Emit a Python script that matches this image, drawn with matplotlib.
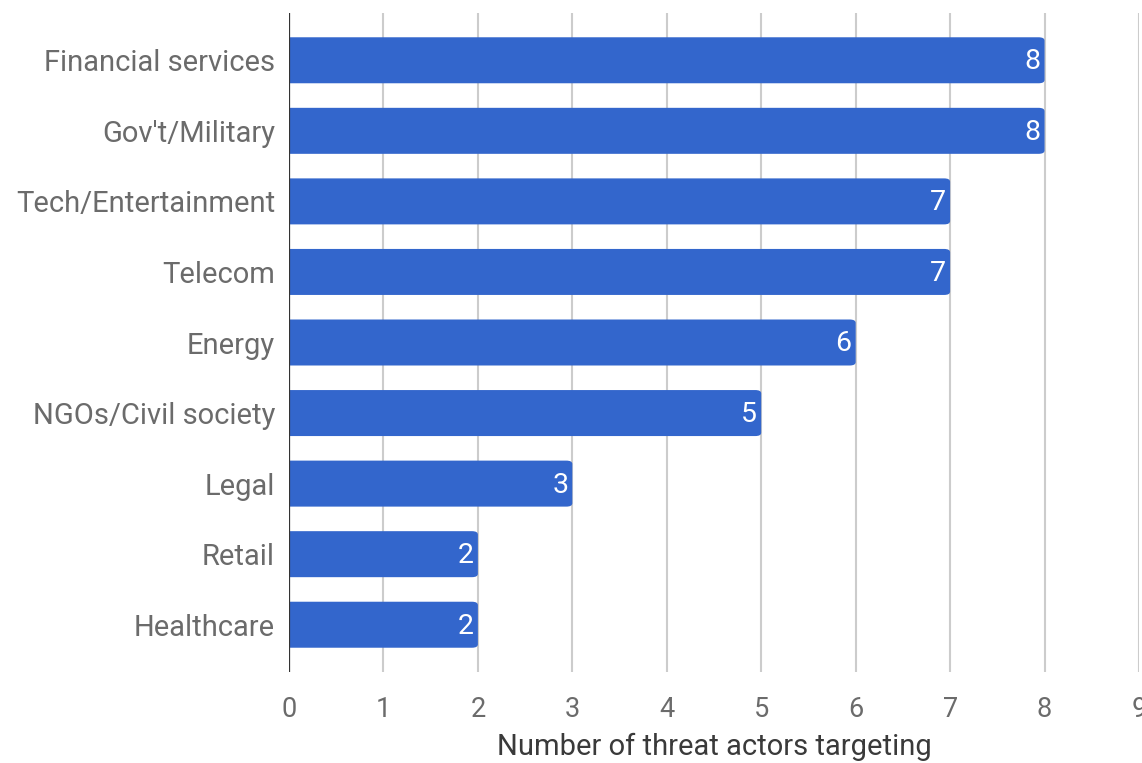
import numpy as np
import matplotlib
matplotlib.use('Agg')
from matplotlib import pyplot as plt
from matplotlib.patches import FancyBboxPatch

sectors = ['Financial services', "Gov't/Military", 'Tech/Entertainment', 'Telecom',
           'Energy', 'NGOs/Civil society', 'Legal', 'Retail', 'Healthcare']
counts = [8, 8, 7, 7, 6, 5, 3, 2, 2]
xticks = [0, 1, 2, 3, 4, 5, 6, 7, 8, 9]

plt.rcParams['font.family'] = ['Roboto', 'DejaVu Sans']

bar_color = '#3366cc'
text_grey = '#6b6b6b'

fig = plt.figure(figsize=(11.42, 7.63), dpi=100)
ax = fig.add_axes([289/1142, 91/763, 850/1142, 659/763])

ypos = np.arange(len(sectors))
h = 0.652
px_x = 850/9.0
px_y = 659/(8.67 + 0.67)
r = 6.0/px_x

for y, v in zip(ypos, counts):
    # rounded box starting left of zero, left corners get clipped by the axes
    p = FancyBboxPatch((-2*r, y - h/2), v + 2*r, h,
                       boxstyle='round,pad=0,rounding_size=%f' % r,
                       mutation_aspect=px_y/px_x,
                       fc=bar_color, ec='none', zorder=3)
    ax.add_patch(p)
    ax.text(v - 4.0/px_x, y + 0.02, str(v), ha='right', va='center',
            color='white', fontsize=20.5, zorder=4)

ax.set_xlim(0, 9)
ax.set_ylim(8.67, -0.67)
ax.set_yticks(ypos)
ax.set_yticklabels(sectors, fontsize=21)
ax.set_xticks(xticks)
ax.tick_params(length=0, colors=text_grey)
ax.tick_params(axis='x', pad=17, labelsize=19.5)
ax.tick_params(axis='y', pad=10)

ax.grid(axis='x', color='#cccccc', lw=1.5, zorder=0)
for s in ax.spines.values():
    s.set_visible(False)
ax.axvline(0, color='#333333', lw=1.6, zorder=5)

ax.set_xlabel('Number of threat actors targeting', fontsize=21, color='#3a3a3a', labelpad=7)

plt.savefig('out.png', dpi=100)
